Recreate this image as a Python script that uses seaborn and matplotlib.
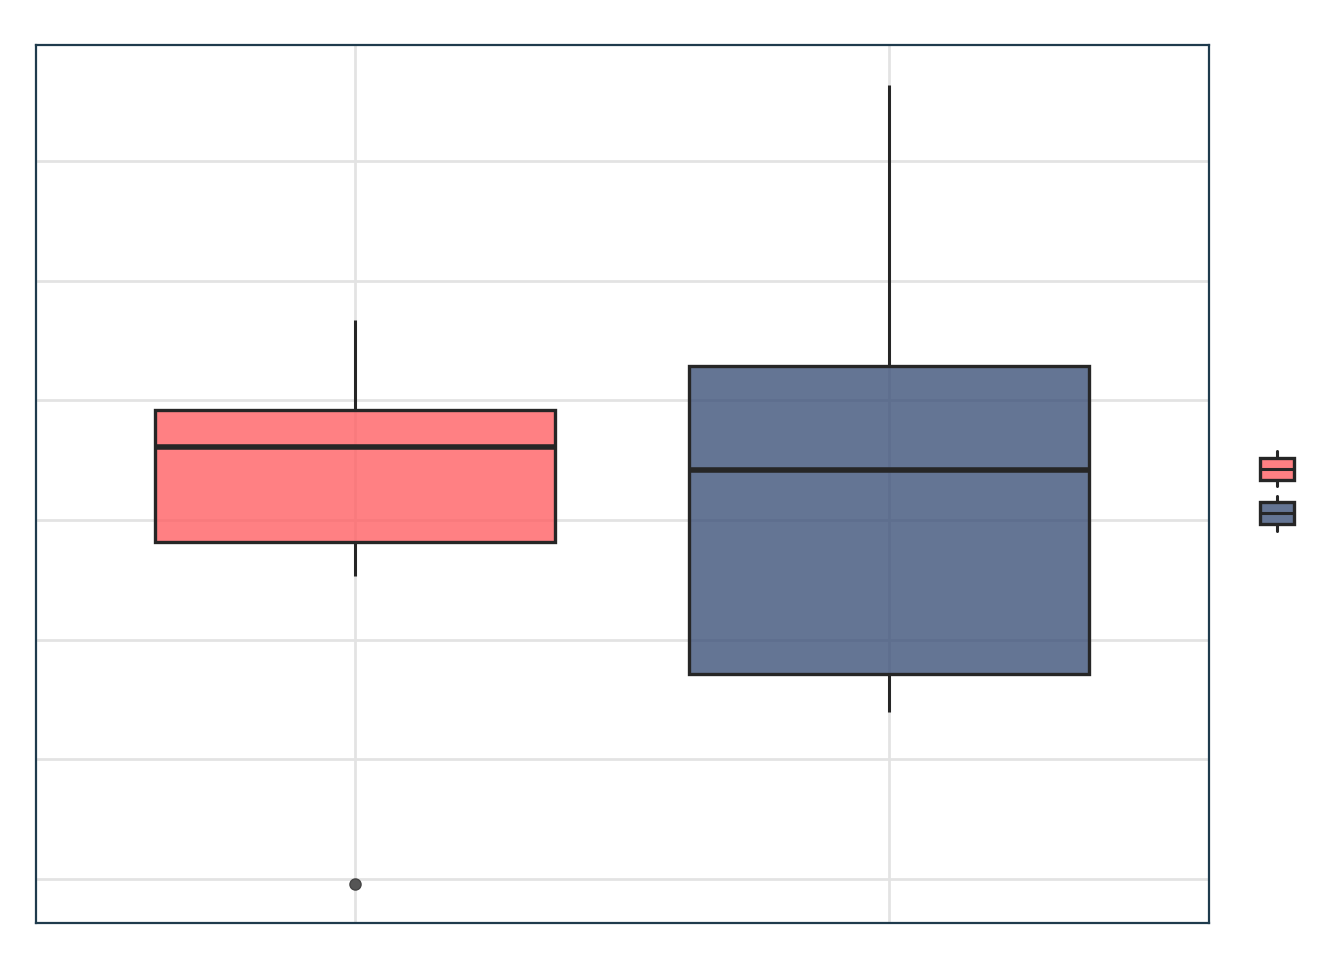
import numpy as np
import pandas as pd
import seaborn as sns
import matplotlib
matplotlib.use("Agg")
import matplotlib.pyplot as plt
from matplotlib.legend_handler import HandlerBase
from matplotlib.patches import Rectangle
from matplotlib.lines import Line2D

# Data (raw samples whose quartiles/whiskers match the reference)
groups = ["A", "B"]
values_a = [9.58, 35.31, 38.15, 42.0, 46.09, 47.0, 49.18, 53.0, 56.7]
values_b = [23.95, 25.0, 27.13, 35.0, 44.17, 48.0, 52.86, 65.0, 76.33]
colors = ["#FF6064", "#3D5279"]
yticks = [10, 20, 30, 40, 50, 60, 70]

df = pd.DataFrame({
    "group": ["A"] * len(values_a) + ["B"] * len(values_b),
    "value": values_a + values_b,
})

sns.set_theme(style="white")
fig = plt.figure(figsize=(13.44, 9.6), dpi=100)
ax = fig.add_axes([36 / 1344, 1 - 923 / 960, (1209 - 36) / 1344, (923 - 45) / 960])

edge = "#262626"
sns.boxplot(
    data=df, x="group", y="value", hue="group", order=groups, hue_order=groups,
    palette=dict(zip(groups, colors)), saturation=1, width=0.75, dodge=False,
    legend=False, linewidth=2.4, linecolor=edge, whis=1.5, ax=ax,
    boxprops=dict(zorder=3),
    medianprops=dict(color=edge, linewidth=4, zorder=4),
    whiskerprops=dict(color=edge, linewidth=2.2),
    capprops=dict(linewidth=0),
    flierprops=dict(marker="o", markersize=8, markerfacecolor="#555555",
                    markeredgecolor="#444444", markeredgewidth=1),
)
for p in ax.patches:
    fc = p.get_facecolor()
    p.set_alpha(None)
    p.set_facecolor((fc[0], fc[1], fc[2], 0.8))
    p.set_edgecolor(edge)

ax.set_xlim(-0.597, 1.599)
ax.set_ylim(6.32, 79.69)
ax.set_yticks(yticks)
ax.set_xticks([0, 1])
ax.set_xticklabels([])
ax.set_yticklabels([])
ax.tick_params(length=0)
ax.set_xlabel("")
ax.set_ylabel("")
ax.set_axisbelow(True)
ax.grid(True, color="#e3e3e3", linewidth=2)
for s in ax.spines.values():
    s.set_color("#1f3b4d")
    s.set_linewidth(1.6)
    s.set_visible(True)


class BoxHandler(HandlerBase):
    def __init__(self, color):
        super().__init__()
        self.color = color

    def create_artists(self, legend, orig_handle, xdescent, ydescent, width,
                       height, fontsize, trans):
        bw, bh = 25, 16
        cx = width / 2 - xdescent
        cy = height / 2 - ydescent
        rect = Rectangle((cx - bw / 2, cy - bh / 2), bw, bh,
                         facecolor=(*matplotlib.colors.to_rgb(self.color), 0.8),
                         edgecolor=edge, linewidth=2.4, transform=trans)
        med = Line2D([cx - bw / 2, cx + bw / 2], [cy, cy], color=edge,
                     linewidth=2.2, transform=trans)
        w1 = Line2D([cx, cx], [cy + bh / 2, cy + bh / 2 + 4.5], color=edge,
                    linewidth=2.2, transform=trans)
        w2 = Line2D([cx, cx], [cy - bh / 2, cy - bh / 2 - 4.5], color=edge,
                    linewidth=2.2, transform=trans)
        return [rect, med, w1, w2]


h1 = Rectangle((0, 0), 1, 1)
h2 = Rectangle((0, 0), 1, 1)
fig.legend([h1, h2], ["", ""],
           handler_map={h1: BoxHandler(colors[0]), h2: BoxHandler(colors[1])},
           loc="center", bbox_to_anchor=(1277 / 1344, 1 - 491 / 960),
           frameon=False, handlelength=2.2, handleheight=1.8, labelspacing=1.5,
           handletextpad=0, borderpad=0)

fig.savefig("out.png", dpi=100)
